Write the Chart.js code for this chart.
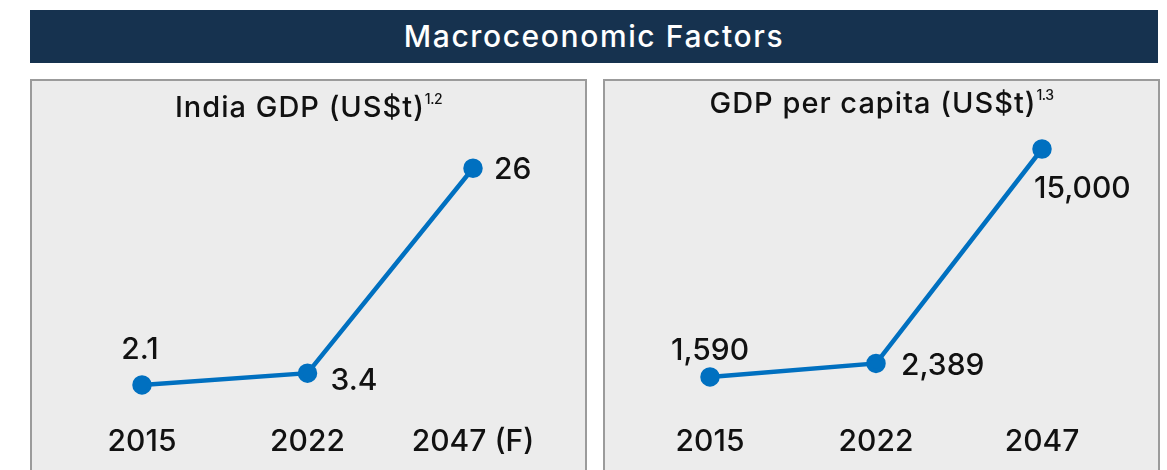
<!DOCTYPE html>
<html>
<head>
<meta charset="utf-8">
<script src="https://cdn.jsdelivr.net/npm/chart.js@4"></script>
<style>
  body { margin: 0; background: #fff; font-family: Inter, "Noto Sans", sans-serif; }
  .banner {
    position: absolute; left: 30px; top: 10px; width: 1128px; height: 53px;
    background: #16324f; color: #fff; font-size: 30px; font-weight: 500; letter-spacing: 1.6px;
    line-height: 53px; text-align: center;
  }
  .panel {
    position: absolute; top: 79px; height: 400px;
    background: #ececec; border: 2px solid #9b9b9b; box-sizing: border-box;
  }
  .panel h2 {
    position: absolute; left: 0; right: 0; top: 8px; margin: 0;
    font-weight: 500; font-size: 29px; letter-spacing: 1px; text-align: center; color: #111;
  }
  .panel h2 sup { font-size: 14px; vertical-align: 13px; letter-spacing: -0.5px; }
  .panel canvas { position: absolute; left: 0; top: 0; }
</style>
</head>
<body>
<div class="banner">Macroceonomic Factors</div>

<div class="panel" style="left:30px; width:557px;">
  <div style="position:absolute; left:0; top:0; width:553px; height:396px;"><canvas id="gdp"></canvas></div>
  <h2>India GDP (US$t)<sup>1.2</sup></h2>
</div>

<div class="panel" style="left:603px; width:557px;">
  <div style="position:absolute; left:0; top:0; width:553px; height:396px;"><canvas id="percap"></canvas></div>
  <h2 style="top:4px;">GDP per capita (US$t)<sup>1.3</sup></h2>
</div>

<script>
// India GDP (US$ trillion)
const gdpYears = ['2015', '2022', '2047 (F)'];
const gdpValues = [2.1, 3.4, 26];
const gdpLabels = ['2.1', '3.4', '26'];

// GDP per capita
const capYears = ['2015', '2022', '2047'];
const capValues = [1590, 2389, 15000];
const capLabels = ['1,590', '2,389', '15,000'];

const BLUE = '#0070c0';
const FONT = 'Inter, "Noto Sans", sans-serif';

// where each value label sits relative to its point
const gdpLabelPos = [
  { dx: -2, dy: -35, align: 'center' },
  { dx: 23, dy: 8, align: 'left' },
  { dx: 21, dy: 2, align: 'left' },
];
const capLabelPos = [
  { dx: 0, dy: -26, align: 'center' },
  { dx: 25, dy: 3, align: 'left' },
  { dx: -8, dy: 40, align: 'left' },
];

const valueLabels = {
  id: 'valueLabels',
  afterDatasetsDraw(chart, args, opts) {
    const ctx = chart.ctx;
    const meta = chart.getDatasetMeta(0);
    ctx.save();
    ctx.font = '500 30px ' + FONT;
    ctx.fillStyle = '#111';
    ctx.textBaseline = 'middle';
    meta.data.forEach((pt, i) => {
      const p = opts.pos[i];
      ctx.textAlign = p.align;
      ctx.fillText(opts.texts[i], pt.x + p.dx, pt.y + p.dy);
    });
    ctx.restore();
  }
};

function lineChart(id, labels, values, yMax, padL, padR, texts, pos) {
  return new Chart(document.getElementById(id), {
    type: 'line',
    data: {
      labels: labels,
      datasets: [{
        data: values,
        borderColor: BLUE,
        backgroundColor: BLUE,
        borderWidth: 4.5,
        pointRadius: 7.5,
        pointHoverRadius: 7.5,
        tension: 0,
      }]
    },
    options: {
      responsive: true,
      maintainAspectRatio: false,
      animation: false,
      layout: { padding: { left: padL, right: padR, top: 51, bottom: 5 } },
      scales: {
        x: {
          offset: false,
          grid: { display: false },
          border: { display: false },
          ticks: { color: '#111', font: { family: FONT, size: 30, weight: 500 }, padding: 12, maxRotation: 0, autoSkip: false }
        },
        y: { display: false, min: 0, max: yMax }
      },
      plugins: {
        legend: { display: false },
        tooltip: { enabled: false },
        valueLabels: { texts: texts, pos: pos }
      }
    },
    plugins: [valueLabels]
  });
}

lineChart('gdp', gdpYears, gdpValues, 30, 110, 112, gdpLabels, gdpLabelPos);
lineChart('percap', capYears, capValues, 16000, 105, 116, capLabels, capLabelPos);
</script>
</body>
</html>
